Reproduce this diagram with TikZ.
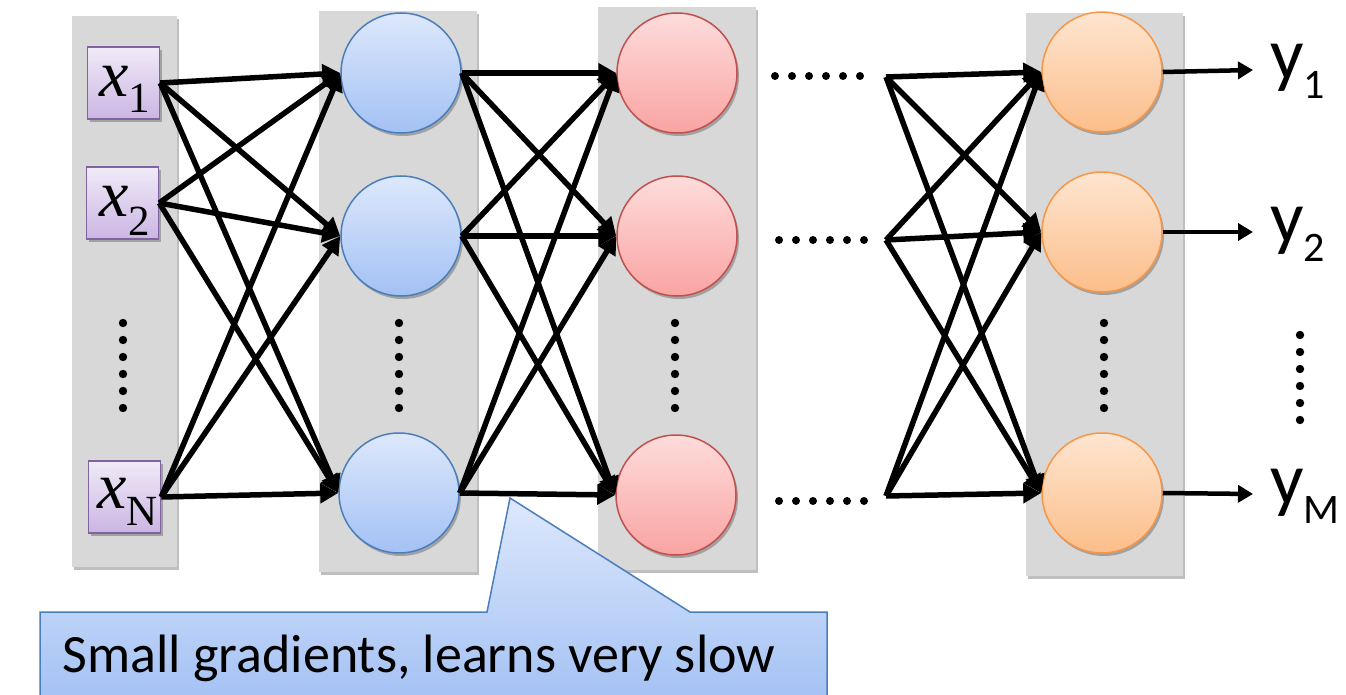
\documentclass[tikz,border=0pt]{standalone}
\usepackage{fontspec}
\setmainfont{Carlito}
\newfontfamily\timesf{Liberation Serif}
\usetikzlibrary{arrows.meta,shadows}
\definecolor{panelgray}{HTML}{D8D8D8}
\definecolor{boxtop}{HTML}{F0EAF8}
\definecolor{boxbot}{HTML}{CBB6E3}
\definecolor{boxborder}{HTML}{8064A2}
\definecolor{bluetop}{HTML}{DDE8FC}
\definecolor{bluebot}{HTML}{A3C1F4}
\definecolor{blueborder}{HTML}{4A7EBB}
\definecolor{redtop}{HTML}{FDDCDB}
\definecolor{redbot}{HTML}{F9A4A2}
\definecolor{redborder}{HTML}{C0504D}
\definecolor{orgtop}{HTML}{FEE5D0}
\definecolor{orgbot}{HTML}{FCBE8A}
\definecolor{orgborder}{HTML}{F79646}
\newcommand{\xlab}[2]{{\timesf\fontsize{66}{66}\selectfont\itshape x}\raisebox{-#2pt}{\timesf\fontsize{43}{43}\selectfont #1}}
\newcommand{\ylab}[1]{{\fontsize{74}{74}\selectfont y}\raisebox{-19pt}{\fontsize{42}{42}\selectfont #1}}
\begin{document}
\begin{tikzpicture}[x=1pt,y=-1pt,
  shad/.style={drop shadow={shadow xshift=2pt,shadow yshift=-3pt,fill=black,opacity=0.25}},
  panel/.style={rectangle,fill=panelgray,draw=none,inner sep=0pt,shad},
  inbox/.style={rectangle,draw=boxborder,line width=1.5pt,top color=boxtop,bottom color=boxbot,minimum size=72pt,inner sep=0pt,shad},
  neuron/.style={circle,minimum size=120pt,inner sep=0pt,line width=1.5pt,shad},
  bluen/.style={neuron,draw=blueborder,top color=bluetop,bottom color=bluebot},
  redn/.style={neuron,draw=redborder,top color=redtop,bottom color=redbot},
  orgn/.style={neuron,draw=orgborder,top color=orgtop,bottom color=orgbot},
  conn/.style={line width=5.5pt,-{Triangle[length=18pt,width=19pt]}},
  outarr/.style={line width=4.5pt,-{Triangle[length=15pt,width=17pt]}},
  dotf/.style={fill=black},
  lab/.style={inner sep=0pt,anchor=base west}
]
\useasboundingbox (0,0) rectangle (1346,695);
% panels
\node[panel,minimum width=105pt,minimum height=551pt] (p1) at (124.5,291.5) {};
\node[panel,minimum width=158pt,minimum height=561pt] (p2) at (398,291.5) {};
\node[panel,minimum width=158pt,minimum height=563pt] (p3) at (677,288.5) {};
\node[panel,minimum width=157pt,minimum height=563pt] (p4) at (1104.5,294.5) {};
% inputs
\node[inbox] (x1) at (123.5,83) {};
\node[inbox] (x2) at (122.5,203) {};
\node[inbox] (x3) at (124.5,497) {};
\node[lab] (tx1) at (99,97) {\xlab{1}{16}};
\node[lab] (tx2) at (99,217) {\xlab{2}{18}};
\node[lab] (tx3) at (97,508) {\xlab{N}{17}};
% neurons
\node[bluen] (b1) at (401,73) {};
\node[bluen] (b2) at (401,236) {};
\node[bluen] (b3) at (399,493) {};
\node[redn] (r1) at (677,73) {};
\node[redn] (r2) at (677,236) {};
\node[redn] (r3) at (676,495) {};
\node[orgn] (o1) at (1102,72) {};
\node[orgn] (o2) at (1102,232) {};
\node[orgn] (o3) at (1102,493) {};
% sources after the dots
\coordinate (s1) at (886,77);
\coordinate (s2) at (886,240);
\coordinate (s3) at (886,496);
% connections
\foreach \a in {x1,x2,x3}{\foreach \b in {b1,b2,b3}{\draw[conn] (\a.east) -- (\b.west);}}
\foreach \a in {b1,b2,b3}{\foreach \b in {r1,r2,r3}{\draw[conn] (\a.east) -- (\b.west);}}
\foreach \a in {s1,s2,s3}{\foreach \b in {o1,o2,o3}{\draw[conn] (\a) -- (\b.west);}}
% outputs
\coordinate (e1) at (1253,70);
\coordinate (e2) at (1253,232);
\coordinate (e3) at (1253,494);
\draw[outarr] (o1.east) -- (e1);
\draw[outarr] (o2.east) -- (e2);
\draw[outarr] (o3.east) -- (e3);
\node[lab] (y1) at (1270,80) {\ylab{1}};
\node[lab] (y2) at (1270,242) {\ylab{2}};
\node[lab] (y3) at (1270,504) {\ylab{M}};
% vertical dots
\foreach \xx in {123,399,675,1104}{\foreach \k in {0,...,5}{\fill[dotf] (\xx,323+17*\k) circle (4.2);}}
\foreach \k in {0,...,5}{\fill[dotf] (1300,335+17*\k) circle (4.2);}
% horizontal dots
\foreach \k in {0,...,5}{\fill[dotf] (775+17*\k,76) circle (4);}
\foreach \k in {0,...,5}{\fill[dotf] (779+17*\k,240) circle (4);}
\foreach \k in {0,...,5}{\fill[dotf] (779+17*\k,501) circle (4);}
% callout
\shade[top color=bluetop,bottom color=bluebot,draw=blueborder,line width=1.5pt]
  (40,612) -- (487,612) -- (510,498) -- (690,612) -- (827,612) -- (827,702) -- (40,702) -- cycle;
\node[inner sep=0pt,anchor=base] (cap) at (419,672) {\fontsize{54}{54}\selectfont Small gradients, learns very slow};
\end{tikzpicture}
\end{document}
